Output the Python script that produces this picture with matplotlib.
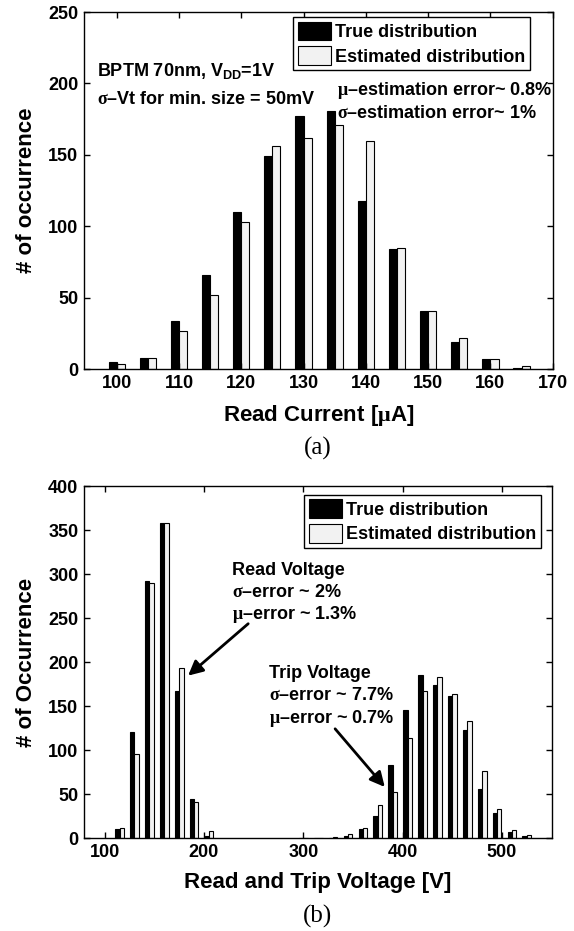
import numpy as np
import matplotlib
matplotlib.use('Agg')
import matplotlib.pyplot as plt

plt.rcParams['font.family'] = ['Liberation Sans', 'DejaVu Sans']
plt.rcParams['font.weight'] = 'bold'
plt.rcParams['mathtext.fontset'] = 'custom'
plt.rcParams['mathtext.rm'] = 'Liberation Serif'
plt.rcParams['mathtext.bf'] = 'Liberation Sans:bold'

# (a) read current histogram
current_bins = [100, 105, 110, 115, 120, 125, 130, 135, 140, 145, 150, 155, 160, 165]
current_true = [5, 8, 34, 66, 110, 149, 177, 181, 118, 84, 41, 19, 7, 1]
current_est = [4, 8, 27, 52, 103, 156, 162, 171, 160, 85, 41, 22, 7, 2]

# (b) read and trip voltage histogram
read_bins = [115, 130, 145, 160, 175, 190, 205]
read_true = [11, 121, 292, 359, 168, 45, 3]
read_est = [12, 96, 290, 358, 194, 41, 8]

trip_bins = [300, 315, 330, 345, 360, 375, 390, 405, 420, 435, 450, 465, 480, 495, 510, 525]
trip_true = [1, 0, 0, 3, 11, 26, 84, 146, 186, 174, 162, 123, 56, 29, 7, 3]
trip_est = [0, 1, 2, 5, 12, 38, 53, 114, 168, 184, 164, 133, 77, 34, 10, 4]

labels = ['True distribution', 'Estimated distribution']
est_color = '#f2f2f2'
fs_tick = 13
fs_label = 16
fs_text = 13

fig = plt.figure(figsize=(5.74, 9.31), dpi=100)
ax1 = fig.add_axes([0.1463, 0.6033, 0.8166, 0.3838])
ax2 = fig.add_axes([0.1463, 0.0994, 0.8148, 0.3781])


def style_axis(ax):
    ax.tick_params(direction='in', length=4, width=1, top=True, right=True,
                   labelsize=fs_tick, pad=4)
    for s in ax.spines.values():
        s.set_linewidth(1)
    for lab in ax.get_xticklabels() + ax.get_yticklabels():
        lab.set_fontweight('bold')


def legend(ax, x, y):
    leg = ax.legend(labels, loc='upper right', bbox_to_anchor=(x, y),
                    fontsize=fs_text, fancybox=False, framealpha=1,
                    edgecolor='black', handlelength=1.85, handleheight=1.2,
                    handletextpad=0.2, labelspacing=0.3, borderpad=0.25,
                    borderaxespad=0)
    leg.get_frame().set_linewidth(1)


# top chart
w = 1.3
x = np.array(current_bins)
ax1.bar(x - w / 2, current_true, width=w, color='black', edgecolor='black', linewidth=0.8)
ax1.bar(x + w / 2, current_est, width=w, color=est_color, edgecolor='black', linewidth=0.8)
ax1.set_xlim(94.75, 170)
ax1.set_ylim(0, 250)
ax1.set_xticks(range(100, 171, 10))
ax1.set_yticks(range(0, 251, 50))
style_axis(ax1)
ax1.set_xlabel(r'Read Current [$\mathrm{\mu}$A]', fontsize=fs_label, fontweight='bold', labelpad=8)
ax1.set_ylabel('# of occurrence', fontsize=fs_label, fontweight='bold', labelpad=8)
legend(ax1, 0.951, 0.986)

ax1.text(96.8, 209, r'BPTM 70nm, V$_{\mathbf{DD}}$=1V', fontsize=fs_text, va='center')
ax1.text(96.8, 189, r'$\mathrm{\sigma}$–Vt for min. size = 50mV', fontsize=fs_text, va='center')
ax1.text(135.4, 195, r'$\mathrm{\mu}$–estimation error~ 0.8%', fontsize=fs_text, va='center')
ax1.text(135.4, 179, r'$\mathrm{\sigma}$–estimation error~ 1%', fontsize=fs_text, va='center')

# bottom chart
w = 4.4
xr = np.array(read_bins)
xt = np.array(trip_bins)
ax2.bar(np.concatenate([xr, xt]) - w / 2, read_true + trip_true, width=w,
        color='black', edgecolor='black', linewidth=0.8)
ax2.bar(np.concatenate([xr, xt]) + w / 2, read_est + trip_est, width=w,
        color=est_color, edgecolor='black', linewidth=0.8)
ax2.set_xlim(79.2, 550)
ax2.set_ylim(0, 400)
ax2.set_xticks(range(100, 501, 100))
ax2.set_yticks(range(0, 401, 50))
style_axis(ax2)
ax2.set_xlabel('Read and Trip Voltage [V]', fontsize=fs_label, fontweight='bold', labelpad=8)
ax2.set_ylabel('# of Occurrence', fontsize=fs_label, fontweight='bold', labelpad=8)
legend(ax2, 0.9765, 0.9765)

ax2.text(228, 305, 'Read Voltage', fontsize=fs_text, va='center')
ax2.text(228, 279, r'$\mathrm{\sigma}$–error ~ 2%', fontsize=fs_text, va='center')
ax2.text(228, 254, r'$\mathrm{\mu}$–error ~ 1.3%', fontsize=fs_text, va='center')
ax2.text(265, 188, 'Trip Voltage', fontsize=fs_text, va='center')
ax2.text(265, 162, r'$\mathrm{\sigma}$–error ~ 7.7%', fontsize=fs_text, va='center')
ax2.text(265, 136, r'$\mathrm{\mu}$–error ~ 0.7%', fontsize=fs_text, va='center')

arrow = dict(arrowstyle='-|>', color='black', lw=2, mutation_scale=22, shrinkA=0, shrinkB=0)
ax2.annotate('', xy=(184, 185), xytext=(244.5, 244), arrowprops=arrow)
ax2.annotate('', xy=(382, 58.5), xytext=(332, 124.6), arrowprops=arrow)

# panel captions
fig.text(318 / 574, 1 - 448 / 931, '(a)', fontsize=18, family='Liberation Serif',
         fontweight='normal', ha='center', va='center')
fig.text(318 / 574, 1 - 916 / 931, '(b)', fontsize=18, family='Liberation Serif',
         fontweight='normal', ha='center', va='center')

fig.savefig('out.png', dpi=100)
